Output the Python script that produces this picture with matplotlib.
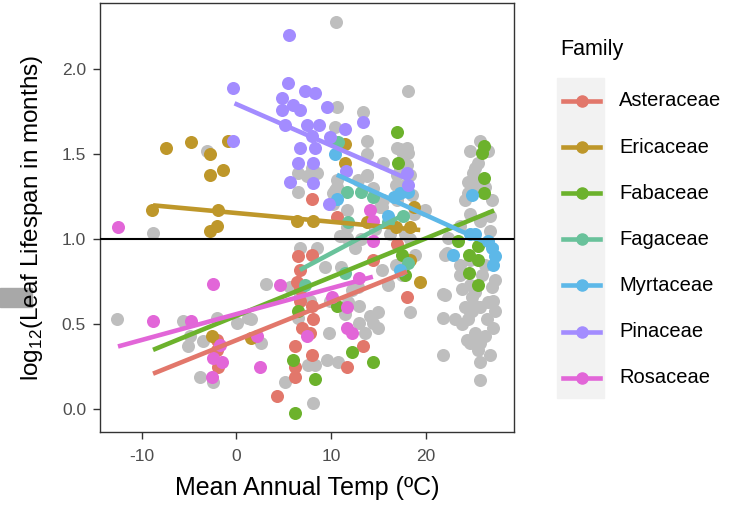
import numpy as np
import matplotlib.pyplot as plt
from matplotlib.lines import Line2D
from matplotlib.patches import Rectangle

plt.rcParams['font.family'] = ['Liberation Sans', 'DejaVu Sans']
plt.rcParams['mathtext.fontset'] = 'custom'
plt.rcParams['mathtext.rm'] = 'Liberation Sans'
plt.rcParams['axes.unicode_minus'] = False

# --- data: (mean annual temp, log12 leaf lifespan) ---
families = ['Asteraceae', 'Ericaceae', 'Fabaceae', 'Fagaceae',
            'Myrtaceae', 'Pinaceae', 'Rosaceae']
colors = ['#E2776B', '#BE972A', '#6CB22C', '#69C29B',
          '#5DB8E8', '#A38CFF', '#E266D8']

aster_t = [8.0, 10.6, 17.0, 6.5, 8.0, 6.4, 6.7, 6.7, 8.0, 8.1, 7.8, 6.9, 6.2,
           8.0, 6.2, 6.2, 4.3, 11.7, 13.4, 18.0, 14.4, -2.0, -1.9, -2.0, 6.7]
aster_l = [1.24, 1.13, 0.97, 0.90, 0.91, 0.75, 0.71, 0.64, 0.61, 0.53, 0.45,
           0.48, 0.37, 0.32, 0.25, 0.19, 0.08, 0.25, 0.37, 0.66, 0.88, 0.35,
           0.25, 0.41, 0.82]

eric_t = [-7.4, -4.8, -2.8, -2.8, -1.4, -0.9, -8.9, -1.9, -2.8, -2.1, -2.6,
          1.5, 11.5, 11.5, 6.4, 8.1, 13.8, 16.8, 18.3, 18.7, 18.3, 19.4]
eric_l = [1.54, 1.57, 1.50, 1.38, 1.41, 1.58, 1.17, 1.17, 1.05, 1.08, 0.43,
          0.42, 1.56, 1.45, 1.11, 1.11, 1.10, 1.07, 1.07, 1.19, 0.88, 0.75]

faba_t = [17.0, 17.1, 26.1, 25.9, 26.1, 26.1, 23.4, 25.5, 24.5, 25.5, 24.5,
          25.5, 17.5, 17.8, 10.6, 6.5, 12.2, 14.4, 6.0, 8.3, 6.2]
faba_l = [1.63, 1.45, 1.55, 1.51, 1.36, 1.27, 0.99, 0.96, 0.91, 0.88, 0.80,
          0.73, 0.91, 0.79, 0.61, 0.58, 0.34, 0.28, 0.29, 0.18, -0.02]

faga_t = [10.7, 11.7, 13.2, 14.4, 11.8, 17.6, 16.0, 11.5, 7.2, 18.1]
faga_l = [1.57, 1.28, 1.28, 1.25, 1.10, 1.14, 1.10, 0.80, 0.73, 0.86]

myrt_t = [10.4, 10.6, 16.6, 17.3, 18.1, 16.0, 24.9, 25.2, 26.6, 27.0, 27.3,
          27.1, 22.9, 17.3, 24.7]
myrt_l = [1.50, 1.24, 1.25, 1.27, 1.28, 1.14, 1.26, 1.03, 0.99, 0.95, 0.90,
          0.85, 0.91, 0.82, 1.03]

pina_t = [-0.4, -0.4, 5.5, 5.4, 4.8, 7.2, 8.3, 6.0, 6.7, 4.8, 9.6, 5.1, 7.5,
          8.7, 11.5, 13.4, 6.7, 8.3, 9.9, 8.0, 6.5, 8.1, 5.7, 8.1, 9.8, 11.6,
          18.0, 18.1]
pina_l = [1.89, 1.58, 2.20, 1.92, 1.83, 1.87, 1.86, 1.79, 1.76, 1.76, 1.78,
          1.67, 1.67, 1.67, 1.65, 1.69, 1.54, 1.54, 1.60, 1.61, 1.45, 1.45,
          1.34, 1.33, 1.21, 1.40, 1.39, 1.32]

rosa_t = [-12.5, -2.5, -8.8, -4.8, -2.5, -1.5, -2.6, -1.7, 4.6, 2.5, 12.9,
          11.7, 11.7, 12.2, 7.5, 10.1, 14.1, 14.4, 14.4, 2.2]
rosa_l = [1.07, 0.74, 0.52, 0.52, 0.30, 0.28, 0.19, 0.38, 0.73, 0.25, 0.77,
          0.60, 0.48, 0.45, 0.43, 0.66, 1.17, 1.11, 0.99, 0.43]

fam_t = [aster_t, eric_t, faba_t, faga_t, myrt_t, pina_t, rosa_t]
fam_l = [aster_l, eric_l, faba_l, faga_l, myrt_l, pina_l, rosa_l]

# fitted line end points per family (x0, x1, y0, y1)
fit_x0 = [-8.8, -8.8, -8.8, 6.7, 10.6, -0.2, -12.5]
fit_x1 = [18.0, 19.4, 27.2, 18.0, 27.6, 18.3, 14.4]
fit_y0 = [0.21, 1.20, 0.35, 0.82, 1.38, 1.80, 0.37]
fit_y1 = [0.81, 1.055, 1.17, 1.155, 0.95, 1.35, 0.78]

# all other species (grey)
other_t = [-8.8, -3.1, -12.6, -5.6, -5.1, -3.5, -3.8, -2.5, -2.0, 0.1, 1.5,
           -4.9, 1.2, 2.6, 3.1, 5.7, 5.1, 8.1, 6.7, 7.8, 6.5, 7.6, 8.3, 9.6,
           10.7, 9.8, 11.8, 12.9, 12.9, 13.6, 14.1, 14.4, 12.8, 11.0, 9.4,
           12.5, 16.0, 18.3, 14.9, 14.9, 15.4, 19.9, 17.5, 15.4, 16.0, 21.8,
           21.8, 21.8, 22.2, 25.7, 26.5, 27.1, 25.7, 24.7, 25.7, 25.7, 24.3,
           24.9, 27.1, 24.7, 25.2, 26.2, 24.4, 24.9, 26.6, 22.0, 26.2, 25.9,
           27.0, 23.8, 25.2, 25.2, 22.0, 24.1, 22.3, 24.7, 25.7, 25.7, 25.2,
           25.2, 24.4, 25.2, 26.2, 25.5, 25.0, 25.4, 24.4, 10.5, 18.1, 13.4,
           13.8, 10.6, 10.4, 13.8, 15.5, 17.0, 18.0, 17.6, 18.1, 17.3, 18.0,
           13.8, 12.8, 14.4, 15.5, 15.2, 11.7, 10.2, 10.6, 8.5, 6.5, 6.5,
           10.2, 11.7, 6.7, 8.5, 18.7, 7.5, 8.0, 10.4, 10.6, 13.8, 11.7, 17.0,
           17.8, 17.0, 18.3, 16.8, 23.6, 26.8, 27.0, 23.6,
           24.7, 26.6, 24.1, 26.8, 24.7, 23.6, 27.3, 23.8, 25.5, 26.8, 23.1,
           27.3, 24.7, 17.3, 18.3, 16.8, 18.5, 16.2, 17.8, 18.9, 14.6, 13.1,
           10.9, 9.9, 11.5, 12.2]
other_l = [1.04, 1.52, 0.53, 0.52, 0.37, 0.40, 0.19, 0.16, 0.54, 0.51, 0.53,
           0.43, 0.54, 0.39, 0.74, 0.72, 0.16, 0.04, 0.68, 0.64, 0.54, 0.26,
           0.26, 0.29, 0.28, 0.45, 0.63, 0.61, 0.51, 0.45, 0.55, 0.51, 0.72,
           0.84, 0.84, 0.95, 0.74, 0.57, 0.57, 0.48, 1.19, 1.17, 0.79, 0.82,
           0.73, 0.68, 0.54, 0.32, 0.92, 0.60, 0.53, 0.48, 0.39, 0.39, 0.28,
           0.17, 0.41, 0.66, 0.64, 0.57, 0.45, 0.43, 0.53, 0.58, 0.63, 0.91,
           0.85, 0.79, 0.72, 0.71, 0.69, 0.61, 0.67, 0.60, 1.01, 1.15, 1.11,
           1.58, 1.42, 1.35, 1.34, 1.29, 1.31, 1.45, 1.39, 1.32, 1.27, 2.28,
           1.87, 1.75, 1.58, 1.78, 1.66, 1.50, 1.45, 1.54, 1.54, 1.50, 1.51,
           1.53, 1.44, 1.37, 1.35, 1.30, 1.23, 1.19, 1.17, 1.27, 1.31, 1.39,
           1.39, 1.28, 1.21, 1.07, 0.95, 0.95, 1.15, 1.37, 1.42, 1.29, 1.35,
           1.38, 1.01, 1.38, 1.32, 1.23, 1.00, 0.85, 0.85, 1.05, 1.23, 1.08,
           1.52, 1.52, 1.23, 1.14, 0.88, 0.79, 0.58, 0.50, 0.35, 0.32, 0.53,
           0.76, 0.73, 1.42, 1.38, 1.32, 1.26, 1.03, 1.03, 0.91, 1.06, 1.00,
           1.02, 0.64, 0.56, 0.70]

fig = plt.figure(figsize=(7.39, 5.08), dpi=100)
ax = fig.add_axes([100 / 739, 1 - 432 / 508, 414 / 739, 429 / 508])

ax.scatter(other_t, other_l, s=88, color='#BEBEBE', linewidths=0, zorder=2)
for t, l, c in zip(fam_t, fam_l, colors):
    ax.scatter(t, l, s=88, color=c, linewidths=0, zorder=3)
for i, c in enumerate(colors):
    ax.plot([fit_x0[i], fit_x1[i]], [fit_y0[i], fit_y1[i]], color=c,
            lw=3.3, solid_capstyle='butt', zorder=4)
ax.axhline(1.0, color='black', lw=1.5, zorder=5)

ax.set_xlim(-14.4, 29.3)
ax.set_ylim(-0.133, 2.39)
ax.set_xticks([-10, 0, 10, 20])
ax.set_yticks([0.0, 0.5, 1.0, 1.5, 2.0])
ax.set_yticklabels(['0.0', '0.5', '1.0', '1.5', '2.0'])
ax.tick_params(colors='#333333', labelcolor='#4D4D4D', labelsize=12.5,
               length=5, width=1)
ax.tick_params(axis='x', pad=7)
ax.tick_params(axis='y', pad=5)
for sp in ax.spines.values():
    sp.set_color('#333333')
    sp.set_linewidth(1.0)

ax.set_xlabel('Mean Annual Temp (ºC)', fontsize=18, labelpad=9)
ax.set_ylabel(r'log$_{\mathregular{12}}$(Leaf Lifespan in months)',
              fontsize=17.5, labelpad=12)

# legend, drawn ggplot-style
fig.text(560 / 739, 1 - 50 / 508, 'Family', fontsize=15.5, va='center')
fig.patches.append(Rectangle((557 / 739, 1 - 398 / 508), 47 / 739, 320 / 508,
                             transform=fig.transFigure, color='#F2F2F2',
                             zorder=0))
for i, (name, c) in enumerate(zip(families, colors)):
    yk = 1 - (101 + 46.1 * i) / 508
    fig.add_artist(Line2D([563 / 739, 600 / 739], [yk, yk], color=c, lw=3.3,
                          transform=fig.transFigure))
    fig.add_artist(Line2D([581.5 / 739], [yk], color=c, marker='o',
                          markersize=8, lw=0, transform=fig.transFigure))
    fig.text(619 / 739, yk, name, fontsize=14.5, va='center')

# clipped edge of a neighbouring panel, sitting behind the y label
fig.patches.append(Rectangle((0, 1 - 307 / 508), 32 / 739, 19 / 508,
                             transform=fig.transFigure, color='#A8A8A8',
                             zorder=-1))

fig.savefig('out.png', dpi=100)
